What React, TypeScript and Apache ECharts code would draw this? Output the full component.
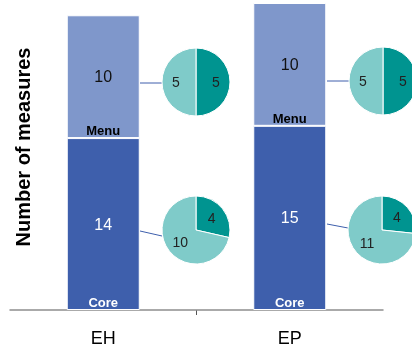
import React, { useEffect, useRef } from "react";
import * as echarts from "echarts";

const categories = ["EH", "EP"];
const coreValues = [14, 15];
const menuValues = [10, 10];
const seriesNames = ["Core", "Menu"];
// pies: [dark teal, light teal]
const menuPies = [[5, 5], [5, 5]];
const corePies = [[4, 10], [4, 11]];
const yTitle = "Number of measures";

const CORE = "#3e5fac";
const MENU = "#7f97cb";
const DARK_TEAL = "#009490";
const LIGHT_TEAL = "#7fcbc9";

const pieCenters = {
  menu: [[196, 82], [383, 81]],
  core: [[196, 230], [382, 230]],
};

export default function App() {
  const ref = useRef<HTMLDivElement>(null);
  useEffect(() => {
    if (!ref.current) return;
    const chart = echarts.init(ref.current, null, { renderer: "svg" });
    const font = "'Liberation Sans', Arial, sans-serif";
    const pieSeries: any[] = [];
    const mkPie = (vals: number[], center: number[]) => ({
      type: "pie",
      radius: 34,
      center,
      startAngle: 90,
      clockwise: true,
      silent: true,
      itemStyle: { borderColor: "#fff", borderWidth: 1 },
      label: {
        show: true,
        position: "inside",
        formatter: "{c}",
        color: "#222",
        fontSize: 14,
        fontFamily: font,
      },
      labelLine: { show: false },
      data: [
        { value: vals[0], itemStyle: { color: DARK_TEAL } },
        { value: vals[1], itemStyle: { color: LIGHT_TEAL } },
      ],
    });
    menuPies.forEach((v, i) => pieSeries.push(mkPie(v, pieCenters.menu[i])));
    corePies.forEach((v, i) => pieSeries.push(mkPie(v, pieCenters.core[i])));

    chart.setOption({
      animation: false,
      grid: { left: 10, right: 29, top: 3, bottom: 40, containLabel: false },
      xAxis: {
        type: "category",
        data: categories,
        axisLine: { lineStyle: { color: "#8f8f8f", width: 1.5 } },
        axisTick: { show: false },
        axisLabel: { color: "#000", fontSize: 18, margin: 19, fontFamily: font },
      },
      yAxis: {
        type: "value",
        min: 0,
        max: 25,
        show: false,
      },
      series: [
        {
          name: seriesNames[0],
          type: "bar",
          stack: "a",
          barWidth: 73,
          data: coreValues,
          itemStyle: { color: CORE, borderColor: "#fff", borderWidth: 1 },
          label: {
            show: true,
            position: "inside",
            color: "#fff",
            fontSize: 16,
            fontFamily: font,
          },
        },
        {
          name: seriesNames[1],
          type: "bar",
          stack: "a",
          barWidth: 73,
          data: menuValues,
          itemStyle: { color: MENU, borderColor: "#fff", borderWidth: 1 },
          label: {
            show: true,
            position: "inside",
            color: "#111",
            fontSize: 16,
            fontFamily: font,
          },
        },
        {
          name: seriesNames[0] + "-name",
          type: "bar",
          stack: "b",
          barWidth: 73,
          barGap: "-100%",
          data: coreValues,
          silent: true,
          itemStyle: { color: "transparent" },
          label: {
            show: true,
            position: "insideBottom",
            distance: 1,
            formatter: seriesNames[0],
            color: "#fff",
            fontWeight: "bold",
            fontSize: 13,
            fontFamily: font,
          },
        },
        {
          name: seriesNames[1] + "-name",
          type: "bar",
          stack: "b",
          barWidth: 73,
          barGap: "-100%",
          data: menuValues,
          silent: true,
          itemStyle: { color: "transparent" },
          label: {
            show: true,
            position: "insideBottom",
            distance: 1,
            formatter: seriesNames[1],
            color: "#000",
            fontWeight: "bold",
            fontSize: 13,
            fontFamily: font,
          },
        },
        ...pieSeries,
      ],
      graphic: [
        {
          type: "text",
          x: 23,
          y: 147,
          rotation: Math.PI / 2,
          style: {
            text: yTitle,
            fill: "#000",
            font: `bold 20px ${font}`,
            textAlign: "center",
            textVerticalAlign: "middle",
          },
        },
        { type: "line", shape: { x1: 196.5, y1: 310, x2: 196.5, y2: 315 }, style: { stroke: "#555", lineWidth: 1 } },
        { type: "line", shape: { x1: 140, y1: 83, x2: 162, y2: 83 }, style: { stroke: CORE, lineWidth: 1 } },
        { type: "line", shape: { x1: 140, y1: 231, x2: 162, y2: 236 }, style: { stroke: CORE, lineWidth: 1 } },
        { type: "line", shape: { x1: 327, y1: 81, x2: 349, y2: 81 }, style: { stroke: CORE, lineWidth: 1 } },
        { type: "line", shape: { x1: 327, y1: 224, x2: 348, y2: 228 }, style: { stroke: CORE, lineWidth: 1 } },
      ],
    });
    return () => chart.dispose();
  }, []);
  return (
    <div
      ref={ref}
      style={{ position: "fixed", left: 0, top: 0, width: 412, height: 350 }}
    />
  );
}
